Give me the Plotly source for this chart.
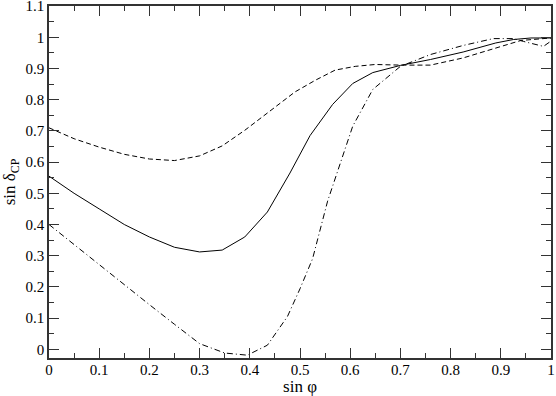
import plotly.graph_objs as go

# sin(phi) grid and sin(delta_CP) curves
x_solid = [0, 0.05, 0.1, 0.15, 0.2, 0.25, 0.3, 0.345, 0.39, 0.435, 0.48, 0.52,
           0.565, 0.605, 0.645, 0.7, 0.76, 0.825, 0.89, 0.925, 0.96, 1.0]
y_solid = [0.555, 0.50, 0.45, 0.40, 0.36, 0.327, 0.312, 0.318, 0.36, 0.44, 0.565,
           0.685, 0.785, 0.852, 0.887, 0.91, 0.929, 0.953, 0.982, 0.993, 0.998, 0.998]

x_dash = [0, 0.05, 0.1, 0.15, 0.2, 0.25, 0.3, 0.345, 0.39, 0.44, 0.49, 0.53,
          0.57, 0.61, 0.65, 0.7, 0.76, 0.825, 0.89, 0.94, 1.0]
y_dash = [0.71, 0.675, 0.648, 0.625, 0.61, 0.605, 0.62, 0.652, 0.702, 0.765, 0.825,
          0.862, 0.895, 0.907, 0.913, 0.911, 0.911, 0.934, 0.966, 0.99, 0.998]

x_dashdot = [0, 0.05, 0.1, 0.15, 0.2, 0.25, 0.3, 0.35, 0.395, 0.435, 0.475, 0.5,
             0.525, 0.555, 0.605, 0.645, 0.68, 0.7, 0.76, 0.825, 0.885, 0.925,
             0.945, 0.985, 1.0]
y_dashdot = [0.4, 0.335, 0.272, 0.208, 0.143, 0.08, 0.018, -0.012, -0.019, 0.013,
             0.105, 0.194, 0.29, 0.475, 0.715, 0.833, 0.881, 0.907, 0.945, 0.974,
             0.996, 0.996, 0.987, 0.971, 0.988]

FONT = "Liberation Serif, Times New Roman, serif"

fig = go.Figure()
fig.add_trace(go.Scatter(x=x_solid, y=y_solid, mode="lines",
                         line=dict(color="black", width=1)))
fig.add_trace(go.Scatter(x=x_dash, y=y_dash, mode="lines",
                         line=dict(color="black", width=1, dash="5px,3px")))
fig.add_trace(go.Scatter(x=x_dashdot, y=y_dashdot, mode="lines",
                         line=dict(color="black", width=1, dash="6px,3px,1px,3px")))

axis_common = dict(
    showgrid=False, zeroline=False, showline=True, linecolor="#333",
    linewidth=1.5, mirror="allticks", ticks="inside", ticklen=10,
    tickcolor="#333", tickwidth=1, automargin=False,
    ticklabeloverflow="allow",
    tickfont=dict(family=FONT, size=15, color="black"),
    minor=dict(ticks="inside", ticklen=5, tickcolor="#333", tickwidth=1),
)

fig.update_xaxes(range=[0, 1], tick0=0, dtick=0.1, **axis_common)
fig.update_xaxes(minor_dtick=0.05, ticklabelstandoff=-3,
                 title=dict(text="sin \u03c6",
                            font=dict(family=FONT, size=17, color="black")))
fig.update_yaxes(range=[-0.028, 1.1005], tick0=0, dtick=0.1, **axis_common)
fig.update_yaxes(minor_dtick=0.05,
                 title=dict(text="sin \u03b4<sub>CP</sub>",
                            font=dict(family=FONT, size=17, color="black")))

fig.update_layout(
    width=556, height=396, showlegend=False,
    margin=dict(l=49, r=5, t=6, b=38),
    plot_bgcolor="white", paper_bgcolor="white",
)

# drop the default page margin so the figure sits at the window's corner
fig.write_html("out.html", config={"displayModeBar": False},
               post_script="document.body.style.margin='0';"
                           "document.body.style.overflow='hidden';")
